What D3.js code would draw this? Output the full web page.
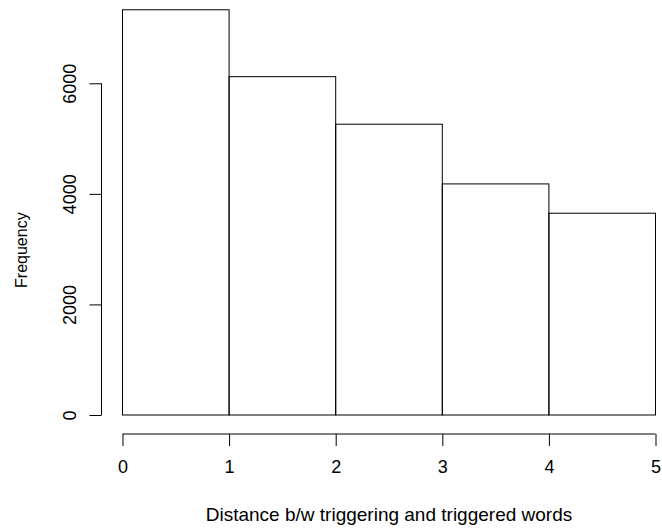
<!DOCTYPE html>
<html>
<head>
<meta charset="utf-8">
<script src="https://cdn.jsdelivr.net/npm/d3@7"></script>
<style>
    body { margin: 0; background: #fff; }
    svg text { font-family: "Liberation Sans", Arial, sans-serif; fill: #000; }
</style>
</head>
<body>
<div class="graph-container"></div>
<script>
// histogram bins (break edges) and counts
const binEdges = [0, 1, 2, 3, 4, 5];
const counts = [7330, 6120, 5260, 4180, 3650];
const yTicks = [0, 2000, 4000, 6000];
const xTicks = [0, 1, 2, 3, 4, 5];
const xTitle = 'Distance b/w triggering and triggered words';
const yTitle = 'Frequency';

const width = 662;
const height = 529;

const svg = d3.select('div.graph-container')
    .append('svg')
    .attr('width', width)
    .attr('height', height);

const x = d3.scaleLinear().domain([0, 5]).range([122.5, 655.5]);
const y = d3.scaleLinear().domain([0, 6000]).range([415, 83.3]);

const bins = counts.map((c, i) => ({ x0: binEdges[i], x1: binEdges[i + 1], count: c }));

// bars
svg.append('g')
    .selectAll('rect')
    .data(bins)
    .enter()
    .append('rect')
    .attr('x', d => x(d.x0))
    .attr('width', d => x(d.x1) - x(d.x0))
    .attr('y', d => y(d.count))
    .attr('height', d => y(0) - y(d.count))
    .attr('fill', 'none')
    .attr('stroke', '#000')
    .attr('stroke-width', 1);

// x axis (R style, detached below plot)
const xAxis = svg.append('g')
    .attr('transform', 'translate(0, 434)')
    .call(d3.axisBottom(x).tickValues(xTicks).tickFormat(d3.format('d')).tickSize(12).tickPadding(14.5));
xAxis.select('.domain').attr('d', `M${x(0)},0H${x(5)}`);
xAxis.selectAll('text').attr('font-size', '18px').attr('font-family', null);

// y axis
const yAxis = svg.append('g')
    .attr('transform', 'translate(101.5, 0)')
    .call(d3.axisLeft(y).tickValues(yTicks).tickFormat(d3.format('d')).tickSize(12).tickPadding(0));
yAxis.select('.domain').attr('d', `M0,${y(0)}V${y(6000)}`);
yAxis.selectAll('.tick text')
    .attr('font-size', '18px')
    .attr('font-family', null)
    .attr('x', null)
    .attr('dy', null)
    .attr('text-anchor', 'middle')
    .attr('transform', 'translate(-26, 0) rotate(-90)');

// titles
svg.append('text')
    .attr('x', (x(0) + x(5)) / 2)
    .attr('y', 521)
    .attr('text-anchor', 'middle')
    .attr('font-size', '19px')
    .text(xTitle);

svg.append('text')
    .attr('transform', `translate(26.5, ${(y(0) + y(6000)) / 2 + 1}) rotate(-90)`)
    .attr('text-anchor', 'middle')
    .attr('font-size', '16px')
    .text(yTitle);
</script>
</body>
</html>
